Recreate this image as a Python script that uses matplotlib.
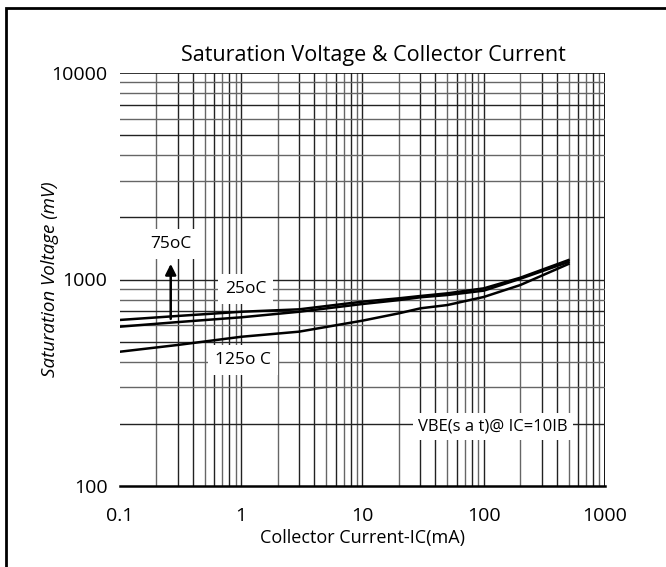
import matplotlib
matplotlib.use("Agg")
import matplotlib.pyplot as plt
import numpy as np
from matplotlib.patches import Rectangle

# collector current (mA) and saturation voltage (mV)
ic_ma = [0.1, 0.3, 1, 3, 10, 20, 30, 50, 100, 200, 500]
vbe_top = [637, 666, 698, 717, 781, 811, 832, 857, 906, 1020, 1242]
vbe_mid = [591, 622, 656, 698, 761, 795, 820, 841, 883, 1008, 1216]
vbe_low = [447, 482, 528, 559, 632, 686, 725, 752, 823, 940, 1189]

x_ticks = [0.1, 1, 10, 100, 1000]
x_tick_labels = ["0.1", "1", "10", "100", "1000"]
y_ticks = [100, 1000, 10000]
y_tick_labels = ["100", "1000", "10000"]

plt.rcParams['font.family'] = ['Open Sans', 'DejaVu Sans']

fig = plt.figure(figsize=(6.66, 5.67), dpi=100)
ax = fig.add_axes([120 / 666, 1 - 486 / 567, 485 / 666, 413 / 567])
ax.set_xscale('log')
ax.set_yscale('log')
ax.set_xlim(0.1, 1000)
ax.set_ylim(100, 10000)

# grid: every 1..9 of each decade, no line at x = 0.1
for dec in [0.1, 1, 10, 100]:
    for m in range(1, 10):
        v = dec * m
        if v > 0.1:
            c = '#222222' if m in (1, 3, 4, 6, 8) else '#666666'
            ax.axvline(v, color=c, lw=1.0, zorder=1)
ax.axvline(1000, color='#111111', lw=1.4, zorder=1)
for dec in [100, 1000]:
    for m in range(1, 10):
        v = dec * m
        if v > 100:
            c = '#222222' if m in (1, 2, 5, 7) else '#666666'
            ax.axhline(v, color=c, lw=1.0, zorder=1)
ax.axhline(10000, color='#111111', lw=1.2, zorder=1)

for y in [vbe_top, vbe_mid, vbe_low]:
    ax.plot(ic_ma, y, color='black', lw=1.8, zorder=3)

box = dict(facecolor='white', edgecolor='none', pad=5)
ax.annotate("", xy=(0.262, 1228), xytext=(0.262, 625),
            arrowprops=dict(arrowstyle='-|>', color='black', lw=1.8,
                            mutation_scale=16), zorder=4)
ax.text(0.262, 1486, "75oC", ha='center', va='center', fontsize=12.5,
        zorder=5, bbox=box)
ax.text(1.09, 897, "25oC", ha='center', va='center', fontsize=12.5,
        zorder=5, bbox=box)
ax.text(1.03, 408, "125o C", ha='center', va='center', fontsize=12.5,
        zorder=5, bbox=box)
ax.text(119, 195, "VBE(s a t)@ IC=10IB", ha='center', va='center',
        fontsize=12, zorder=5, bbox=dict(facecolor='white', edgecolor='none', pad=4))

ax.set_xticks(x_ticks)
ax.set_xticklabels(x_tick_labels)
ax.set_yticks(y_ticks)
ax.set_yticklabels(y_tick_labels)
ax.xaxis.set_minor_locator(matplotlib.ticker.NullLocator())
ax.yaxis.set_minor_locator(matplotlib.ticker.NullLocator())
ax.tick_params(axis='both', length=0, labelsize=14)
ax.tick_params(axis='x', pad=15)
ax.tick_params(axis='y', pad=9)

for s in ['top', 'right', 'left']:
    ax.spines[s].set_visible(False)
ax.spines['bottom'].set_linewidth(1.8)

ax.set_title("Saturation Voltage & Collector Current", fontsize=15.5, pad=9,
             x=0.522)
ax.set_xlabel("Collector Current-IC(mA)", fontsize=13, labelpad=3)
ax.set_ylabel("Saturation Voltage (mV)", fontsize=13.5, style='italic')
ax.yaxis.set_label_coords(-0.125, 0.5)

fig.patches.append(Rectangle((6 / 666, -0.05), 1.1, 1 - 8 / 567 + 0.05,
                             transform=fig.transFigure, fill=False,
                             edgecolor='black', lw=2.0))

fig.savefig("out.png", dpi=100)
